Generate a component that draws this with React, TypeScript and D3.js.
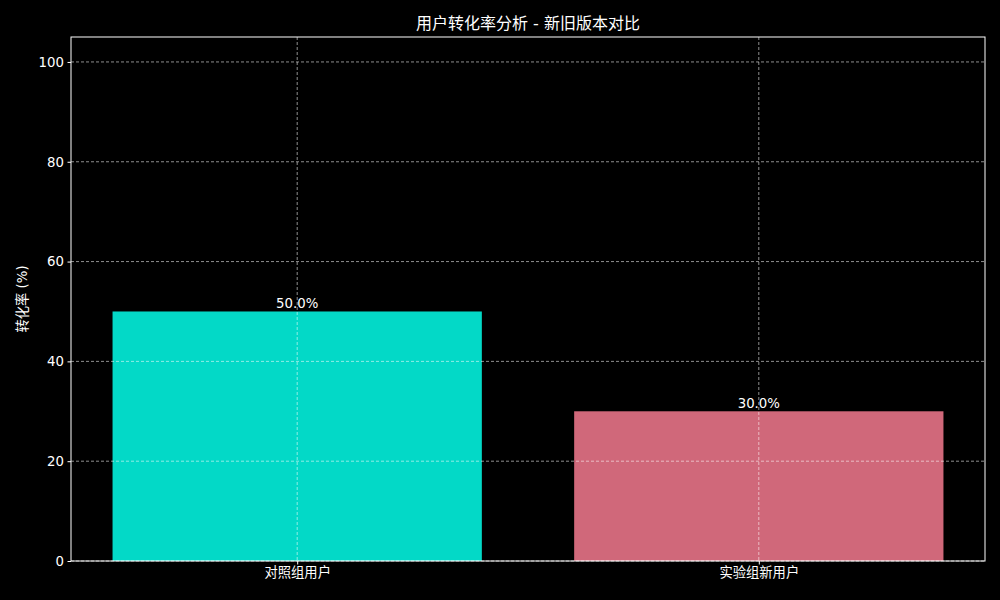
import { useEffect, useRef } from 'react';
import * as d3 from 'd3';

const categories = ['对照组用户', '实验组新用户'];
const values = [50.0, 30.0];
const barColors = ['#03d9c7', '#d0687a'];
const yTicks = [0, 20, 40, 60, 80, 100];
const title = '用户转化率分析 - 新旧版本对比';
const yLabel = '转化率 (%)';

export default function App() {
  const ref = useRef<SVGSVGElement>(null);
  const width = 1000;
  const height = 600;

  useEffect(() => {
    if (!ref.current) return;
    const svg = d3.select(ref.current);
    svg.selectAll('*').remove();

    const margin = { top: 37, right: 15, bottom: 39, left: 71 };
    const innerW = width - margin.left - margin.right;
    const innerH = height - margin.top - margin.bottom;
    const font = '"DejaVu Sans", "Noto Sans CJK SC", sans-serif';

    svg.append('rect').attr('width', width).attr('height', height).attr('fill', '#000');

    const g = svg.append('g').attr('transform', `translate(${margin.left},${margin.top})`);

    const x = d3.scaleLinear().domain([-0.49, 1.49]).range([0, innerW]);
    const y = d3.scaleLinear().domain([0, 105]).range([innerH, 0]);
    const barW = x(0.8) - x(0);

    g.selectAll('rect.bar')
      .data(values)
      .join('rect')
      .attr('class', 'bar')
      .attr('x', (_, i) => x(i) - barW / 2)
      .attr('y', (d) => y(d))
      .attr('width', barW)
      .attr('height', (d) => innerH - y(d))
      .attr('fill', (_, i) => barColors[i]);

    // grid on top of bars
    const grid = g.append('g').attr('stroke', '#ffffff').attr('stroke-opacity', 0.7)
      .attr('stroke-width', 0.8).attr('stroke-dasharray', '3,2');
    grid.selectAll('line.h').data(yTicks).join('line').attr('class', 'h')
      .attr('x1', 0).attr('x2', innerW).attr('y1', (d) => y(d)).attr('y2', (d) => y(d));
    grid.selectAll('line.v').data(categories).join('line').attr('class', 'v')
      .attr('x1', (_, i) => x(i)).attr('x2', (_, i) => x(i)).attr('y1', 0).attr('y2', innerH);

    g.selectAll('text.val')
      .data(values)
      .join('text')
      .attr('class', 'val')
      .attr('x', (_, i) => x(i))
      .attr('y', (d) => y(d) - 3)
      .attr('text-anchor', 'middle')
      .attr('fill', '#fff')
      .attr('font-family', font)
      .attr('font-size', 13.3)
      .text((d) => `${d.toFixed(1)}%`);

    g.append('rect')
      .attr('width', innerW)
      .attr('height', innerH)
      .attr('fill', 'none')
      .attr('stroke', '#fff')
      .attr('stroke-width', 1);

    const yAxis = g.append('g').call(
      d3.axisLeft(y).tickValues(yTicks).tickSize(3.5).tickPadding(3.5).tickFormat(d3.format('d'))
    );
    yAxis.select('.domain').remove();
    yAxis.selectAll('line').attr('stroke', '#fff');
    yAxis.selectAll('text').attr('fill', '#fff').attr('font-family', font).attr('font-size', 13.3);

    const xAxis = g.append('g').attr('transform', `translate(0,${innerH})`).call(
      d3.axisBottom(x).tickValues([0, 1]).tickSize(3.5).tickPadding(3.5)
        .tickFormat((d) => categories[d as number])
    );
    xAxis.select('.domain').remove();
    xAxis.selectAll('line').attr('stroke', '#fff');
    xAxis.selectAll('text').attr('fill', '#fff').attr('font-family', font).attr('font-size', 13.3);

    svg.append('text')
      .attr('x', margin.left + innerW / 2)
      .attr('y', 29)
      .attr('text-anchor', 'middle')
      .attr('fill', '#fff')
      .attr('font-family', font)
      .attr('font-size', 16)
      .text(title);

    svg.append('text')
      .attr('transform', `translate(27,${margin.top + innerH / 2}) rotate(-90)`)
      .attr('text-anchor', 'middle')
      .attr('fill', '#fff')
      .attr('font-family', font)
      .attr('font-size', 13.3)
      .text(yLabel);
  }, []);

  return (
    <svg
      ref={ref}
      width={width}
      height={height}
      style={{ position: 'absolute', left: 0, top: 0, display: 'block' }}
    />
  );
}
